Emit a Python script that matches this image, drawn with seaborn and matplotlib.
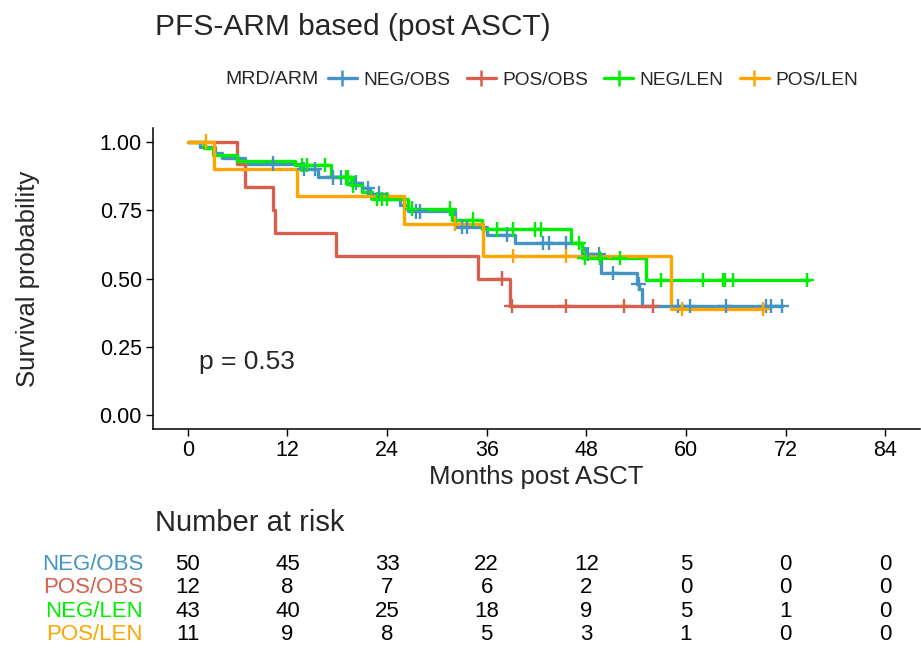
import matplotlib
matplotlib.use('Agg')

import numpy as np
import pandas as pd
import matplotlib.pyplot as plt
from matplotlib.lines import Line2D
import seaborn as sns

# Groups and colours
groups = ['NEG/OBS', 'POS/OBS', 'NEG/LEN', 'POS/LEN']
colors = ['#4393C3', '#D6604D', '#00EE00', '#FFA500']

# Step curves (time in months, survival after the step)
neg_obs_t = [0, 1.5, 3.3, 4.1, 6.9, 13.5, 15.7, 19.9, 21.0, 22.0, 24.0, 25.5, 26.5,
             32.2, 36.0, 39.4, 47.5, 47.9, 49.8, 54.1, 54.4, 54.7, 71.6]
neg_obs_s = [1.0, 0.98, 0.96, 0.94, 0.92, 0.90, 0.87, 0.85, 0.83, 0.81, 0.79, 0.77, 0.745,
             0.69, 0.66, 0.63, 0.61, 0.59, 0.52, 0.48, 0.46, 0.40, 0.40]
neg_obs_c = [10.2, 14.0, 15.3, 17.5, 18.5, 20.3, 21.7, 23.0, 27.5, 28.0, 33.0, 33.6,
             38.5, 42.8, 43.5, 45.5, 48.2, 49.5, 51.2, 54.3, 59.0, 60.5, 64.8, 69.6, 70.2, 71.6]

pos_obs_t = [0, 5.9, 6.9, 10.2, 10.5, 17.9, 34.9, 38.8, 56.0]
pos_obs_s = [1.0, 0.917, 0.833, 0.75, 0.667, 0.583, 0.5, 0.4, 0.4]
pos_obs_c = [37.9, 39.0, 45.5, 52.5, 56.0]

neg_len_t = [0, 2.0, 3.0, 5.9, 12.9, 17.3, 19.7, 21.0, 22.2, 26.5, 31.8, 35.4, 46.2,
             47.5, 55.2, 74.8]
neg_len_s = [1.0, 0.977, 0.953, 0.93, 0.915, 0.87, 0.84, 0.817, 0.79, 0.755, 0.715, 0.68,
             0.63, 0.575, 0.495, 0.495]
neg_len_c = [13.8, 14.3, 16.5, 19.0, 19.3, 19.9, 22.8, 23.4, 24.0, 27.0, 31.6, 34.3,
             37.3, 39.2, 41.8, 42.6, 47.1, 47.8, 49.6, 52.0, 57.0, 62.0, 64.5, 64.7,
             65.7, 74.6]

pos_len_t = [0, 3.1, 13.2, 26.0, 35.5, 58.2, 69.3]
pos_len_s = [1.0, 0.90, 0.80, 0.70, 0.583, 0.389, 0.389]
pos_len_c = [2.2, 32.2, 39.2, 45.5, 59.5, 69.3]

# Number at risk table
risk_times = [0, 12, 24, 36, 48, 60, 72, 84]
risk_neg_obs = [50, 45, 33, 22, 12, 5, 0, 0]
risk_pos_obs = [12, 8, 7, 6, 2, 0, 0, 0]
risk_neg_len = [43, 40, 25, 18, 9, 5, 1, 0]
risk_pos_len = [11, 9, 8, 5, 3, 1, 0, 0]

curves = {
    'NEG/OBS': (neg_obs_t, neg_obs_s, neg_obs_c, risk_neg_obs),
    'POS/OBS': (pos_obs_t, pos_obs_s, pos_obs_c, risk_pos_obs),
    'NEG/LEN': (neg_len_t, neg_len_s, neg_len_c, risk_neg_len),
    'POS/LEN': (pos_len_t, pos_len_s, pos_len_c, risk_pos_len),
}

# long tables for seaborn
step_rows = []
cens_rows = []
for g in groups:
    t, s, c, _ = curves[g]
    for ti, si in zip(t, s):
        step_rows.append((g, ti, si))
    t_arr = np.array(t)
    s_arr = np.array(s)
    for ci in c:
        idx = np.searchsorted(t_arr, ci, side='right') - 1
        cens_rows.append((g, ci, s_arr[idx]))
steps = pd.DataFrame(step_rows, columns=['group', 'time', 'surv'])
cens = pd.DataFrame(cens_rows, columns=['group', 'time', 'surv'])

sns.set_theme(style='ticks')
plt.rcParams['font.family'] = ['Liberation Sans', 'DejaVu Sans']

W, H = 921, 651
fig = plt.figure(figsize=(W / 100, H / 100), dpi=100)
palette = dict(zip(groups, colors))

# main KM axes
ax = fig.add_axes([153 / W, 1 - 429 / H, (920 - 153) / W, (429 - 128) / H])
sns.lineplot(data=steps, x='time', y='surv', hue='group', palette=palette,
             estimator=None, drawstyle='steps-post', linewidth=2.4, legend=False, ax=ax)
sns.scatterplot(data=cens, x='time', y='surv', hue='group', palette=palette,
                marker='+', s=110, linewidth=1.7, legend=False, ax=ax, zorder=3)

ax.set_xlim(-4.2, 88.2)
ax.set_ylim(-0.05, 1.05)
ax.set_xticks(risk_times)
ax.set_yticks([0, 0.25, 0.5, 0.75, 1.0])
ax.set_yticklabels(['0.00', '0.25', '0.50', '0.75', '1.00'])
ax.tick_params(labelsize=15.5, colors='black', length=5, width=1, pad=3)
for sp in ['left', 'bottom']:
    ax.spines[sp].set_color('black')
    ax.spines[sp].set_linewidth(1.1)
sns.despine(ax=ax)
ax.set_xlabel('Months post ASCT', fontsize=18.5, labelpad=3)
ax.set_ylabel('Survival probability', fontsize=18.5, labelpad=43)
ax.text(1.4, 0.195, 'p = 0.53', fontsize=19, va='center', ha='left')

# title and legend
fig.text(155 / W, 1 - 27 / H, 'PFS-ARM based (post ASCT)', fontsize=21.5, va='center', ha='left')
fig.text(225 / W, 1 - 80 / H, 'MRD/ARM', fontsize=14, va='center', ha='left')
handles = [Line2D([], [], color=c, lw=2.4, marker='+', markersize=11, mew=1.8) for c in colors]
fig.legend(handles, groups, loc='center left', bbox_to_anchor=(328 / W, 1 - 80 / H),
           ncol=4, frameon=False, fontsize=13.8, handlelength=1.5, handletextpad=0.35,
           columnspacing=0.85, borderpad=0, borderaxespad=0)

# number at risk
fig.text(155 / W, 1 - 523 / H, 'Number at risk', fontsize=21, va='center', ha='left')
ax2 = fig.add_axes([153 / W, 1 - 646 / H, (920 - 153) / W, (646 - 553) / H])
ax2.set_xlim(-4.2, 88.2)
ax2.set_ylim(3.5, -0.5)
ax2.axis('off')
for i, g in enumerate(groups):
    risk = curves[g][3]
    ax2.text(-0.013, i, g, color=palette[g], fontsize=16, ha='right', va='center',
             transform=ax2.get_yaxis_transform())
    for tt, n in zip(risk_times, risk):
        ax2.text(tt, i, str(n), fontsize=16, ha='center', va='center', color='black')

fig.savefig('out.png', dpi=100)
